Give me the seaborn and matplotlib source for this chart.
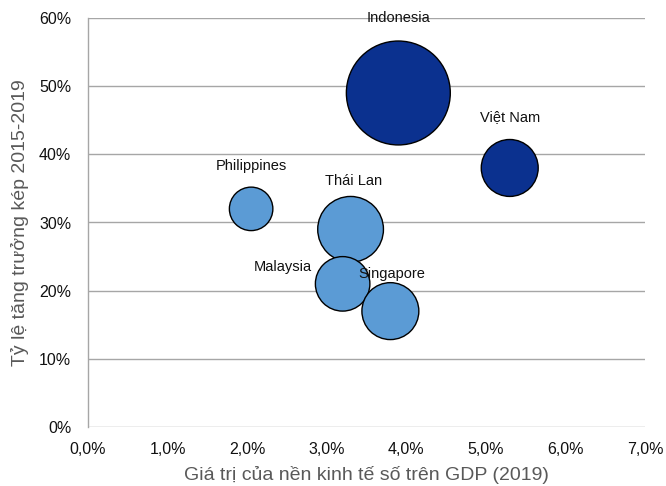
import matplotlib
matplotlib.use("Agg")
import matplotlib.pyplot as plt
import matplotlib.ticker as mticker
import pandas as pd
import seaborn as sns

# Data
countries = ["Indonesia", "Việt Nam", "Philippines", "Thái Lan", "Malaysia", "Singapore"]
digital_share = [3.9, 5.3, 2.05, 3.3, 3.2, 3.8]     # % of GDP 2019
cagr = [49, 38, 32, 29, 21, 17]                     # % CAGR 2015-2019
market_size = [40, 12, 7, 16, 11, 12]               # bubble size
group = ["high", "high", "low", "low", "low", "low"]

df = pd.DataFrame({"country": countries, "x": digital_share, "y": cagr,
                   "size": market_size, "group": group})

sns.set_style("white")
plt.rcParams["font.family"] = ["Liberation Sans", "DejaVu Sans"]

fig = plt.figure(figsize=(6.66, 4.86), dpi=100)
ax = fig.add_axes([88 / 666, 1 - 427 / 486, 557 / 666, 409 / 486])

ax.yaxis.grid(True, color="#A6A6A6", linewidth=1.0, zorder=0)
ax.set_axisbelow(True)

sns.scatterplot(data=df, x="x", y="y", size="size", sizes=(7 * 140, 40 * 140),
                size_norm=(7, 40), hue="group",
                palette={"high": "#0B318F", "low": "#5B9BD5"},
                edgecolor="black", linewidth=1.0, alpha=1, legend=False,
                ax=ax, zorder=3)

# label offsets in points (dx, dy, ha)
offsets = {
    "Indonesia": (0, 54, "center"),
    "Việt Nam": (0, 37, "center"),
    "Philippines": (0, 31, "center"),
    "Thái Lan": (2, 35, "center"),
    "Malaysia": (-22, 12, "right"),
    "Singapore": (1, 27, "center"),
}
for c, xv, yv in zip(countries, digital_share, cagr):
    dx, dy, ha = offsets[c]
    ax.annotate(c, (xv, yv), xytext=(dx, dy), textcoords="offset points",
                ha=ha, va="center", fontsize=10.5, color="#111111", zorder=5)

ax.set_xlim(0, 7)
ax.set_ylim(0, 60)
ax.xaxis.set_major_locator(mticker.MultipleLocator(1))
ax.yaxis.set_major_locator(mticker.MultipleLocator(10))
ax.xaxis.set_major_formatter(mticker.FuncFormatter(lambda v, p: f"{v:.1f}%".replace(".", ",")))
ax.yaxis.set_major_formatter(mticker.FuncFormatter(lambda v, p: f"{v:.0f}%"))
ax.tick_params(axis="both", length=0, labelsize=11.5, colors="#111111")
ax.tick_params(axis="x", pad=11)
ax.tick_params(axis="y", pad=12)

for s in ["top", "right", "bottom"]:
    ax.spines[s].set_visible(False)
ax.spines["left"].set_color("#A6A6A6")
ax.spines["left"].set_linewidth(1.0)

ax.set_xlabel("Giá trị của nền kinh tế số trên GDP (2019)", fontsize=14,
              color="#595959", labelpad=6)
ax.set_ylabel("Tỷ lệ tăng trưởng kép 2015-2019", fontsize=14,
              color="#595959", labelpad=7)

fig.savefig("out.png", dpi=100)
